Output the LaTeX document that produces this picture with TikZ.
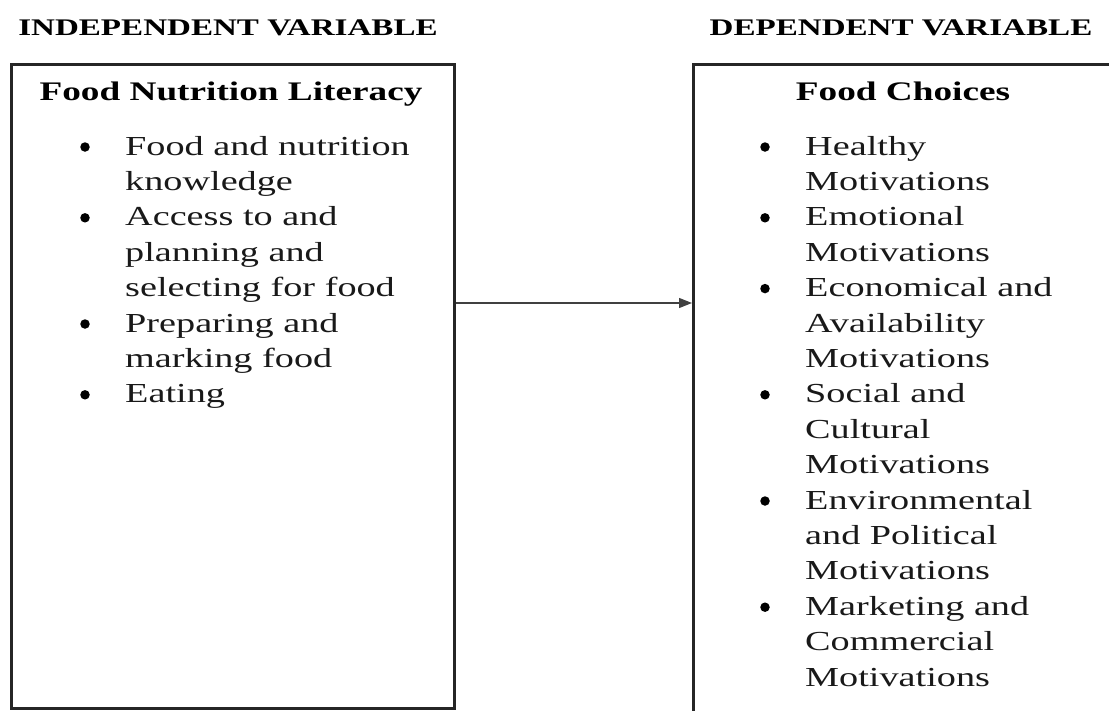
\documentclass[tikz,border=0pt]{standalone}
\usepackage{fontspec}
\setmainfont{Liberation Serif}[FakeStretch=1.39]
\usetikzlibrary{arrows.meta}
\begin{document}
\begin{tikzpicture}[x=1pt,y=-1pt,
  box/.style={draw=black!85, line width=2.6pt, inner sep=0, fill=none},
  txt/.style={font=\fontsize{27.5}{30}\selectfont, anchor=base west, inner sep=0, text=black!90},
  ttl/.style={font=\bfseries\fontsize{23.8}{28}\selectfont, anchor=base, inner sep=0},
  hd/.style={font=\bfseries\fontsize{26.8}{30}\selectfont, anchor=base, inner sep=0},
  bul/.style={circle, fill=black, inner sep=0, minimum size=9.5pt},
  arr/.style={-{Triangle[length=13pt,width=10pt]}, line width=1.3pt, draw=black!75}]
\useasboundingbox (0,0) rectangle (1109,710);
\clip (0,0) rectangle (1109,710);
% titles
\node[ttl] (IV) at (228,35) {INDEPENDENT VARIABLE};
\node[ttl] (DV) at (901,35) {DEPENDENT VARIABLE};
% boxes
\node[box, anchor=north west, minimum width=443pt, minimum height=644pt] (LB) at (10,63) {};
\node[box, anchor=north west, minimum width=440pt, minimum height=670pt] (RB) at (692,63) {};
% headings
\node[hd] (LH) at (231,100) {Food Nutrition Literacy};
\node[hd] (RH) at (903,100) {Food Choices};
% left list
\foreach \t [count=\i] in {Food and nutrition, knowledge, Access to and, planning and, selecting for food, Preparing and, marking food, Eating}
  \node[txt] (L\i) at (125,{155+35.4*(\i-1)}) {\t};
\foreach \i in {1,3,6,8}
  \node[bul] (LD\i) at (85,{147+35.4*(\i-1)}) {};
% right list
\foreach \t [count=\i] in {Healthy, Motivations, Emotional, Motivations, Economical and, Availability, Motivations, Social and, Cultural, Motivations, Environmental, and Political, Motivations, Marketing and, Commercial, Motivations}
  \node[txt] (R\i) at (805,{155+35.4*(\i-1)}) {\t};
\foreach \i in {1,3,5,8,11,14}
  \node[bul] (RD\i) at (765,{147+35.4*(\i-1)}) {};
% arrow
\coordinate (ay) at (0,303);
\draw[arr] (LB.east |- ay) -- (RB.west |- ay);
\end{tikzpicture}
\end{document}
